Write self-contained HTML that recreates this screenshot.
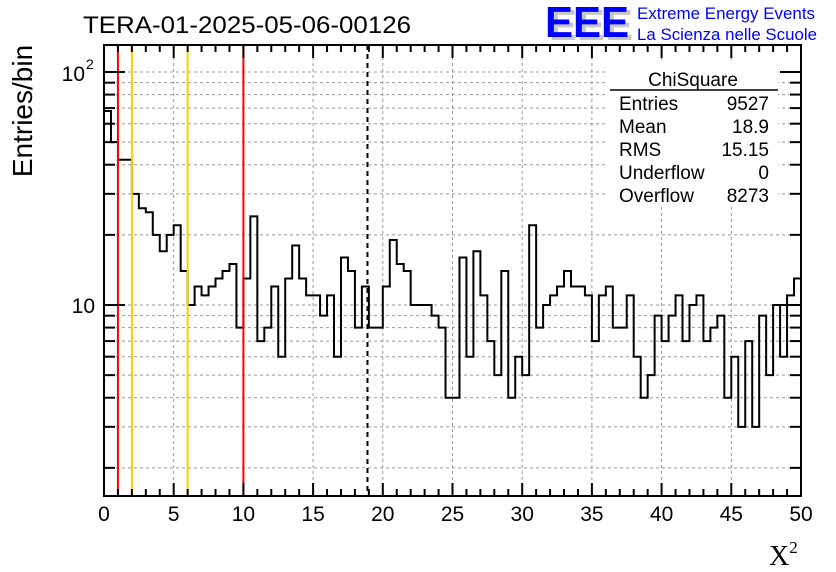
<!DOCTYPE html>
<html><head><meta charset="utf-8"><style>
body{margin:0;background:#fff;}
svg{display:block;font-family:"Liberation Sans",sans-serif;}
</style></head><body>
<svg id="chart" width="836" height="572" viewBox="0 0 836 572" xmlns="http://www.w3.org/2000/svg">
<rect width="836" height="572" fill="#fff"/>
<g id="grid"></g>
<g id="hist"></g>
<g id="vlines"></g>
<rect x="607" y="60" width="171" height="146" fill="#fff"/>
<g id="axes"></g>
<text x="83" y="33" font-size="24" textLength="328" lengthAdjust="spacingAndGlyphs">TERA-01-2025-05-06-00126</text>
<g>
<text x="549" y="40" font-size="44" font-weight="bold" fill="#c8c8c8" textLength="84" lengthAdjust="spacingAndGlyphs">EEE</text>
<text x="545" y="37" font-size="44" font-weight="bold" fill="#0000ff" textLength="84" lengthAdjust="spacingAndGlyphs">EEE</text>
<text x="637" y="19" font-size="17" fill="#0000ff" textLength="178" lengthAdjust="spacingAndGlyphs">Extreme Energy Events</text>
<text x="637" y="40" font-size="17" fill="#0000ff" textLength="180" lengthAdjust="spacingAndGlyphs">La Scienza nelle Scuole</text>
</g>
<g font-size="19">
<text x="693" y="86" text-anchor="middle">ChiSquare</text>
<line x1="610" y1="90" x2="778" y2="90" stroke="#000" stroke-width="1.5"/>
<text x="619" y="110">Entries</text><text x="769" y="110" text-anchor="end">9527</text>
<text x="619" y="133">Mean</text><text x="769" y="133" text-anchor="end">18.9</text>
<text x="619" y="156">RMS</text><text x="769" y="156" text-anchor="end">15.15</text>
<text x="619" y="179">Underflow</text><text x="769" y="179" text-anchor="end">0</text>
<text x="619" y="202">Overflow</text><text x="769" y="202" text-anchor="end">8273</text>
</g>
<text transform="translate(32,111) rotate(-90)" text-anchor="middle" font-size="28">Entries/bin</text>
<text x="769" y="565" font-size="28" font-family="Liberation Serif,serif">X<tspan font-size="17" dy="-12">2</tspan></text>
</svg>
<script>
const counts=[68,50,42,42,30,26,25,20,17,20,22,14,10,12,11,12,13,14,15,8,13,24,7,8,12,6,13,18,13,11,11,9,11,6,16,14,8,12,8,8,12,19,15,14,10,10,10,9,8,4,4,16,6,17,11,7,5,14,4,6,5,22,8,10,11,12,14,12,12,11,7,11,12,8,8,11,6,4,5,9,7,9,11,7,10,11,7,8,9,4,6,3,7,3,9,5,10,6,11,13];
const binWidth=0.5;
const xTicks=[0,5,10,15,20,25,30,35,40,45,50];
const cutLinesRed=[1,10];
const cutLinesYellow=[2,6];
const meanLine=[18.9];
const X0=104,X1=801,Y0=496,Y1=45,xMin=0,xMax=50;
const NS="http://www.w3.org/2000/svg";
function xs(v){return X0+(v-xMin)/(xMax-xMin)*(X1-X0);}
function ys(v){return 305-(Math.log10(v)-1)*233;}
function mk(tag,at,parent){const e=document.createElementNS(NS,tag);for(const k in at)e.setAttribute(k,at[k]);parent.appendChild(e);return e;}
const grid=document.getElementById('grid'),hist=document.getElementById('hist'),vl=document.getElementById('vlines'),axes=document.getElementById('axes');
for(const t of xTicks){if(t===xMin||t===xMax)continue;const g=mk('line',{x1:xs(t),x2:xs(t),y1:Y1,y2:Y0,stroke:'#999','stroke-dasharray':'3,3','stroke-width':1},grid);

}
const yGridVals=[2,3,4,5,6,7,8,9,10,20,30,40,50,60,70,80,90,100];
for(const v of yGridVals){const g=mk('line',{x1:X0,x2:X1,y1:ys(v),y2:ys(v),stroke:'#999','stroke-dasharray':'3,3','stroke-width':1},grid);

}
let d='M'+xs(0)+','+Y0;
counts.forEach((c,i)=>{const y=ys(Math.max(c,1.5));d+=' L'+xs(i*binWidth)+','+y+' L'+xs((i+1)*binWidth)+','+y;});
d+=' L'+xs(counts.length*binWidth)+','+Y0;
const hp=mk('path',{d:d,fill:'none',stroke:'#000','stroke-width':2},hist);


function vline(v,col,dash,name){const l=mk('line',{x1:xs(v),x2:xs(v),y1:Y1,y2:Y0,stroke:col,'stroke-width':2},vl);if(dash)l.setAttribute('stroke-dasharray',dash);

}
cutLinesRed.forEach(v=>vline(v,'#ff0000',null,'red-cut-line'));
cutLinesYellow.forEach(v=>vline(v,'#ffcc00',null,'yellow-cut-line'));
meanLine.forEach(v=>vline(v,'#000','5,4','mean-line'));
const fr=mk('rect',{x:X0,y:Y1,width:X1-X0,height:Y0-Y1,fill:'none',stroke:'#000','stroke-width':2},axes);


for(let v=xMin;v<=xMax;v++){const major=v%5===0;const L=major?13:7;
mk('line',{x1:xs(v),x2:xs(v),y1:Y0,y2:Y0-L,stroke:'#000','stroke-width':2},axes);
mk('line',{x1:xs(v),x2:xs(v),y1:Y1,y2:Y1+L,stroke:'#000','stroke-width':2},axes);}
xTicks.forEach(t=>{const tx=mk('text',{x:xs(t),y:521,'text-anchor':'middle','font-size':21},axes);tx.textContent=t;

});
yGridVals.forEach(v=>{const major=(v===10||v===100);const L=major?21:11;
mk('line',{x1:X0,x2:X0+L,y1:ys(v),y2:ys(v),stroke:'#000','stroke-width':2},axes);
mk('line',{x1:X1,x2:X1-L,y1:ys(v),y2:ys(v),stroke:'#000','stroke-width':2},axes);});
const yl1=mk('text',{x:95,y:ys(10)+8,'text-anchor':'end','font-size':21},axes);yl1.textContent='10';


const yl2=mk('text',{x:85,y:ys(100)+9,'text-anchor':'end','font-size':21},axes);yl2.textContent='10';


const ye=mk('text',{x:86,y:ys(100)-3,'font-size':14},axes);ye.textContent='2';


</script>
</body></html>
